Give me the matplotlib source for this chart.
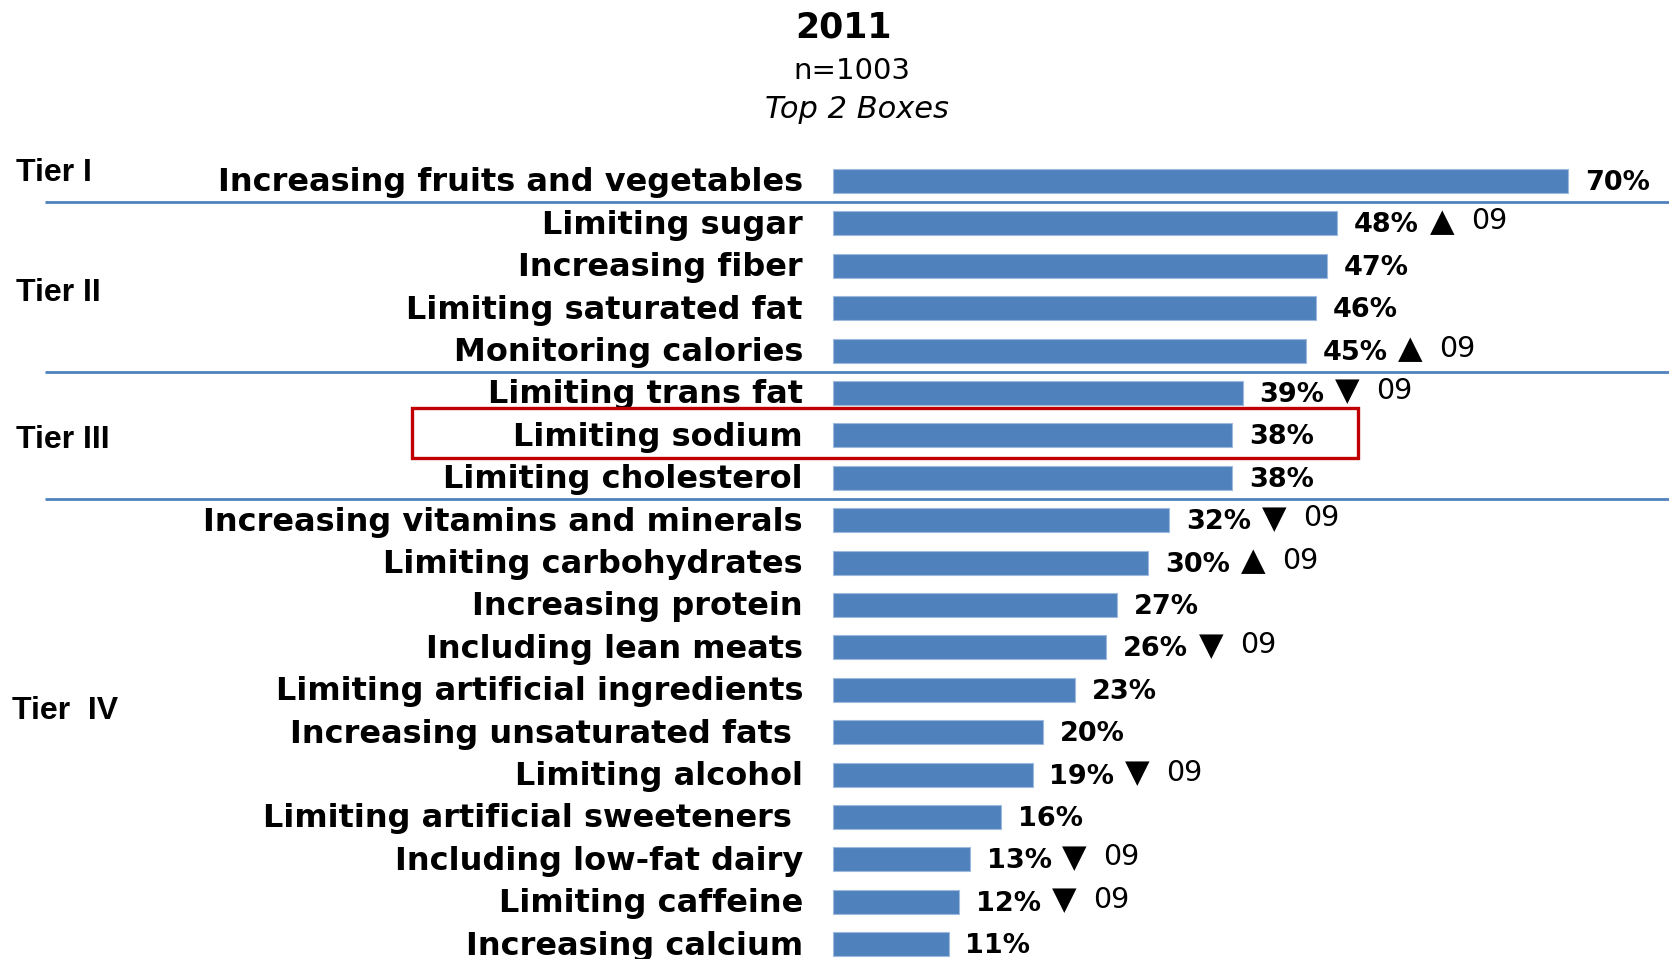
import matplotlib
matplotlib.use("Agg")
import matplotlib.pyplot as plt
from matplotlib.patches import Rectangle

# ---------------- data ----------------
categories = [
    "Increasing fruits and vegetables",
    "Limiting sugar",
    "Increasing fiber",
    "Limiting saturated fat",
    "Monitoring calories",
    "Limiting trans fat",
    "Limiting sodium",
    "Limiting cholesterol",
    "Increasing vitamins and minerals",
    "Limiting carbohydrates",
    "Increasing protein",
    "Including lean meats",
    "Limiting artificial ingredients",
    "Increasing unsaturated fats ",
    "Limiting alcohol",
    "Limiting artificial sweeteners ",
    "Including low-fat dairy",
    "Limiting caffeine",
    "Increasing calcium",
]
values = [70, 48, 47, 46, 45, 39, 38, 38, 32, 30, 27, 26, 23, 20, 19, 16, 13, 12, 11]
# change vs 2009: "up", "down" or ""
changes = ["", "up", "", "", "up", "down", "", "", "down", "up", "", "down",
           "", "", "down", "", "down", "down", ""]
change_label = "09"

tier_names = ["Tier I", "Tier II", "Tier III", "Tier  IV"]
tier_label_rows = [-0.2, 2.64, 6.1, 12.5]
tier_breaks = [0.5, 4.5, 7.5]          # separators between tiers (row units)
highlight_row = 6                      # "Limiting sodium"

title = "2011"
subtitle = "n=1003"
subtitle2 = "Top 2 Boxes"

# ---------------- layout ----------------
W, H, DPI = 1669, 959, 100
fig = plt.figure(figsize=(W / DPI, H / DPI), dpi=DPI)
ax = fig.add_axes([0, 0, 1, 1])
ax.axis("off")

x0_px = 833.0          # bar origin (px)
px_per_pct = 10.5
row0_px = 181.0        # centre of first row (px from top)
row_px = 42.4
ax.set_xlim(-x0_px / px_per_pct, (W - x0_px) / px_per_pct)
ax.set_ylim((H - row0_px) / row_px, -row0_px / row_px)

def px2x(px):
    return (px - x0_px) / px_per_pct

bar_color = "#4F81BD"
rows = list(range(len(categories)))
ax.barh(rows, values, height=0.57, color=bar_color, edgecolor="#9DB9DD",
        linewidth=0.8, zorder=2)

label_x = px2x(803)
for r, (cat, v, ch) in enumerate(zip(categories, values, changes)):
    ax.annotate(cat, xy=(label_x, r), xytext=(0, -2), textcoords="offset pixels",
                ha="right", va="center", fontsize=23,
                fontweight="bold", family="DejaVu Sans", color="black")
    ax.annotate(f"{v}%", xy=(v, r), xytext=(17, -2), textcoords="offset pixels",
                ha="left", va="center", fontsize=19.5, fontweight="bold",
                family="DejaVu Sans", color="black")
    if ch:
        sym = "\u25B2" if ch == "up" else "\u25BC"
        ax.annotate(sym, xy=(v, r), xytext=(17 + 88, 1), textcoords="offset pixels",
                    ha="center", va="center", fontsize=23, family="DejaVu Sans",
                    color="black")
        ax.annotate(change_label, xy=(v, r), xytext=(17 + 117, 2), textcoords="offset pixels",
                    ha="left", va="center", fontsize=20.5, family="DejaVu Sans",
                    color="black")

# tier separators
for b in tier_breaks:
    ax.plot([px2x(45), px2x(W)], [b, b], color=bar_color, lw=2.0,
            solid_capstyle="butt", zorder=1)

# tier labels
for name, ry in zip(tier_names, tier_label_rows):
    xpx = 12 if "IV" in name else 16
    ax.text(px2x(xpx), ry, name, ha="left", va="center", fontsize=23,
            fontweight="bold", family="Liberation Sans", color="black")

# highlight box
hx0, hx1 = px2x(412), px2x(1358)
ax.add_patch(Rectangle((hx0, highlight_row - 0.65), hx1 - hx0, 1.18,
                       fill=False, edgecolor="#C00000", lw=2.4, zorder=3))

# titles
fig.text(843 / W, 1 - 27 / H, title, ha="center", va="center", fontsize=25,
         fontweight="bold", family="DejaVu Sans")
fig.text(852 / W, 1 - 71 / H, subtitle, ha="center", va="center", fontsize=21,
         family="DejaVu Sans")
fig.text(857 / W, 1 - 109 / H, subtitle2, ha="center", va="center", fontsize=22,
         style="italic", family="DejaVu Sans")

fig.savefig("out.png", dpi=DPI, facecolor="white")
